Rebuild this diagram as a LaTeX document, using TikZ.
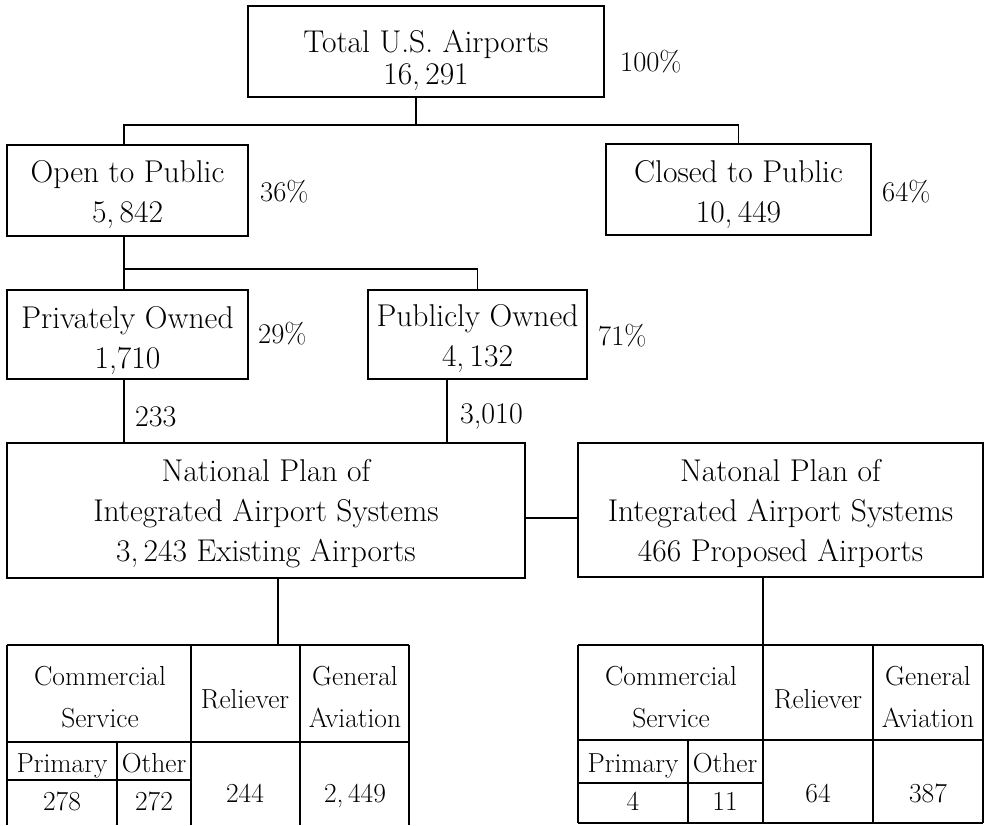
\documentclass[tikz,border=0pt]{standalone}
\usepackage{fontspec}
\begin{document}
\begin{tikzpicture}[x=1pt,y=-1pt,
  ln/.style={line width=1.3pt},
  box/.style={draw,line width=1.3pt,inner sep=0pt,align=center,font=\fontsize{31.5}{40}\selectfont},
  pct/.style={anchor=base west,inner sep=0pt,font=\fontsize{28.5}{34}\selectfont},
  cnt/.style={anchor=base west,inner sep=0pt,font=\fontsize{30}{34}\selectfont},
  cell/.style={anchor=base,inner sep=0pt,font=\fontsize{27.5}{30}\selectfont}]
\useasboundingbox (0,0) rectangle (984,825);
\fill[white] (0,0) rectangle (984,825);

% boxes
\node[box,font=\fontsize{31.5}{32}\selectfont,minimum width=356pt,minimum height=91pt] (top) at (426,51.5)
  {\rule{0pt}{41pt}Total U.S. Airports\\16,\,291};
\node[box,minimum width=241pt,minimum height=91pt] (open) at (127.5,190.5)
  {\rule{0pt}{30pt}Open to Public\\5,\,842};
\node[box,minimum width=265pt,minimum height=91pt] (closed) at (738.5,189.5)
  {\rule{0pt}{32.5pt}Closed to Public\\10,\,449};
\node[box,minimum width=241pt,minimum height=89pt] (priv) at (127.5,334.5)
  {\rule{0pt}{33.5pt}Privately Owned\\1,710};
\node[box,minimum width=219pt,minimum height=89pt] (publ) at (477.5,334.5)
  {\rule{0pt}{29.8pt}Publicly Owned\\4,\,132};
\node[box,minimum width=518pt,minimum height=135pt] (exist) at (266,510.5)
  {\rule{0pt}{28.7pt}National Plan of\\Integrated Airport Systems\\3,\,243 Existing Airports};
\node[box,minimum width=405pt,minimum height=134pt] (prop) at (780.5,510)
  {\rule{0pt}{29.5pt}Natonal Plan of\\Integrated Airport Systems\\466 Proposed Airports};

% percentages and counts
\node[pct] (p100) at (620,71) {100\%};
\node[pct] (p36) at (260,201.7) {36\%};
\node[pct] (p64) at (882,201.7) {64\%};
\node[pct] (p29) at (258,343) {29\%};
\node[pct] (p71) at (598,345) {71\%};
\node[cnt] (n233) at (135,426.7) {233};
\node[cnt] (n3010) at (460,423.3) {3,010};

% connectors
\coordinate (j0) at (416,125);
\coordinate (jL) at (124,125);
\coordinate (jR) at (738.5,125);
\draw[ln] (top.south -| j0) -- (j0);
\draw[ln] (open.north -| jL) -- (jL) -- (jR) -- (closed.north -| jR);
\coordinate (k0) at (124,269);
\coordinate (k1) at (477.5,269);
\draw[ln] (open.south -| k0) -- (k0) -- (k1) -- (publ.north -| k1);
\draw[ln] (k0) -- (priv.north -| k0);
\coordinate (m0) at (124,400);
\coordinate (m1) at (447,400);
\draw[ln] (priv.south -| m0) -- (exist.north -| m0);
\draw[ln] (publ.south -| m1) -- (exist.north -| m1);
\coordinate (c1) at (550,518);
\draw[ln] (exist.east |- c1) -- (prop.west |- c1);
\coordinate (ltop) at (278,645);
\coordinate (rtop) at (763,645);
\draw[ln] (exist.south -| ltop) -- (ltop);
\draw[ln] (prop.south -| rtop) -- (rtop);

% left table
\draw[ln] (7,645) -- (409,645);
\draw[ln] (7,742) -- (409,742);
\draw[ln] (7,780) -- (191,780);
\draw[ln] (7,645) -- (7,825) (191,645) -- (191,825) (300,645) -- (300,825) (409,645) -- (409,825);
\draw[ln] (117,742) -- (117,825);
\node[cell] (lc1) at (100,685) {Commercial};
\node[cell] (lc2) at (100,727) {Service};
\node[cell] (lrel) at (245,708) {Reliever};
\node[cell] (lga1) at (355,685) {General};
\node[cell] (lga2) at (355,727) {Aviation};
\node[cell] (lpri) at (62,772) {Primary};
\node[cell] (loth) at (154,772) {Other};
\node[cell] (lv1) at (62,810) {278};
\node[cell] (lv2) at (154,810) {272};
\node[cell] (lv3) at (245,802) {244};
\node[cell] (lv4) at (355,802) {2,\,449};

% right table
\draw[ln] (578,645) -- (983,645);
\draw[ln] (578,740) -- (983,740);
\draw[ln] (578,783) -- (763,783);
\draw[ln] (578,823) -- (983,823);
\draw[ln] (578,645) -- (578,823) (763,645) -- (763,823) (873,645) -- (873,823) (983,645) -- (983,823);
\draw[ln] (688,740) -- (688,823);
\node[cell] (rc1) at (671,685) {Commercial};
\node[cell] (rc2) at (671,727) {Service};
\node[cell] (rrel) at (818,708) {Reliever};
\node[cell] (rga1) at (928,685) {General};
\node[cell] (rga2) at (928,727) {Aviation};
\node[cell] (rpri) at (633,772) {Primary};
\node[cell] (roth) at (725,772) {Other};
\node[cell] (rv1) at (633,810) {4};
\node[cell] (rv2) at (725,810) {11};
\node[cell] (rv3) at (818,802) {64};
\node[cell] (rv4) at (928,802) {387};
\end{tikzpicture}
\end{document}
